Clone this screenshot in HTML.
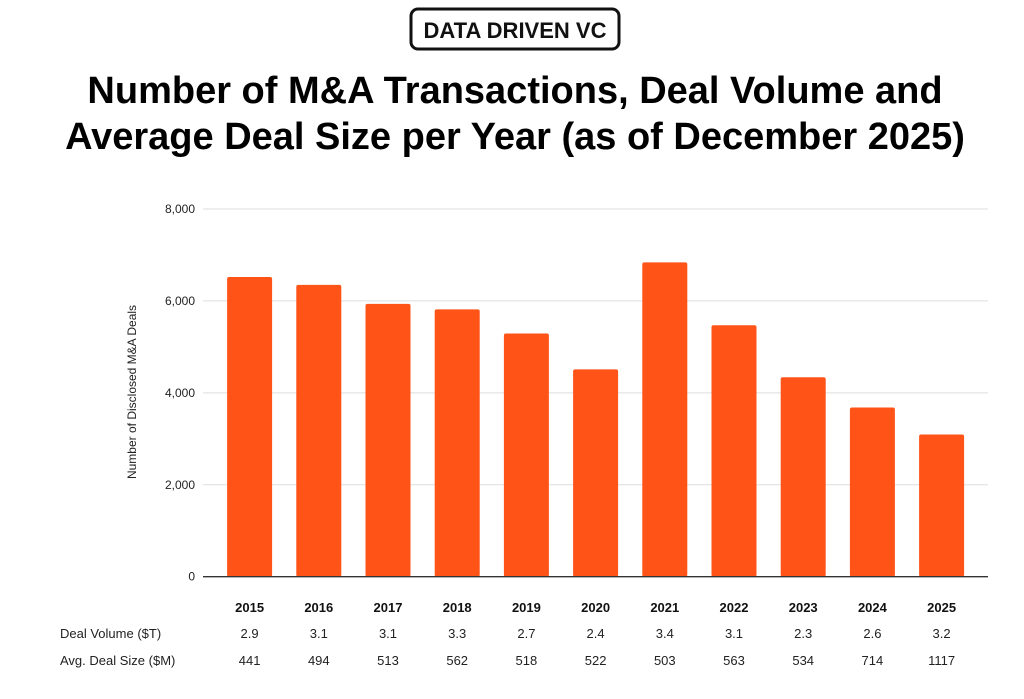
<!DOCTYPE html>
<html><head><meta charset="utf-8"><style>
body{margin:0;background:#fff;width:1024px;height:699px;overflow:hidden;font-family:"Liberation Sans",sans-serif}
svg{display:block}
</style></head><body>
<svg id="c" width="1024" height="699">
<rect x="411" y="9" width="208" height="40" rx="7" fill="#fff" stroke="#111" stroke-width="3"/>
<text x="515" y="38" text-anchor="middle" font-size="22" font-weight="bold" fill="#111">DATA DRIVEN VC</text>
<text x="515" y="103" text-anchor="middle" font-size="38" font-weight="bold" fill="#000">Number of M&amp;A Transactions, Deal Volume and</text>
<text x="515" y="149" text-anchor="middle" font-size="38" font-weight="bold" fill="#000">Average Deal Size per Year (as of December 2025)</text>
<text transform="translate(136,392) rotate(-90)" text-anchor="middle" font-size="12" fill="#222">Number of Disclosed M&amp;A Deals</text>
<text x="60" y="638" font-size="13" fill="#222">Deal Volume ($T)</text>
<text x="60" y="665" font-size="13" fill="#222">Avg. Deal Size ($M)</text>
<g id="g"></g>
</svg>
<script>
const years=["2015","2016","2017","2018","2019","2020","2021","2022","2023","2024","2025"];
const deals=[6520,6350,5935,5815,5290,4510,6840,5470,4340,3680,3095];
const volume=["2.9","3.1","3.1","3.3","2.7","2.4","3.4","3.1","2.3","2.6","3.2"];
const avgSize=["441","494","513","562","518","522","503","563","534","714","1117"];
const ticks=[0,2000,4000,6000,8000];
const NS="http://www.w3.org/2000/svg";
const g=document.getElementById('g');
const y0=576.7,yTop=209,max=8000;
const y=v=>y0-(v/max)*(y0-yTop);
const x0=215,step=69.2;
const xc=i=>x0+step*(i+0.5);
function mk(t,a,txt){const e=document.createElementNS(NS,t);for(const k in a)e.setAttribute(k,a[k]);if(txt!=null)e.textContent=txt;g.appendChild(e);return e;}
ticks.forEach(t=>{
  if(t>0){const l=mk('line',{x1:203,x2:988,y1:y(t),y2:y(t),stroke:'#ddd','stroke-width':1});
  
  }
  const tx=mk('text',{x:195,y:y(t)+4,'text-anchor':'end','font-size':12,fill:'#222'},t.toLocaleString('en-US'));
  
  
});
years.forEach((yr,i)=>{
  const r=mk('rect',{x:xc(i)-22.5,y:y(deals[i]),width:45,height:y0-y(deals[i]),fill:'#FF5318',rx:2});
  
  
  const a=mk('text',{x:xc(i),y:612,'text-anchor':'middle','font-size':13,'font-weight':'bold',fill:'#111'},yr);
  
  
  const b=mk('text',{x:xc(i),y:638,'text-anchor':'middle','font-size':13,fill:'#222'},volume[i]);
  
  
  const c=mk('text',{x:xc(i),y:665,'text-anchor':'middle','font-size':13,fill:'#222'},avgSize[i]);
  
  
});
const ax=mk('line',{x1:203,x2:988,y1:y0,y2:y0,stroke:'#333','stroke-width':1.3});


</script>
</body></html>
